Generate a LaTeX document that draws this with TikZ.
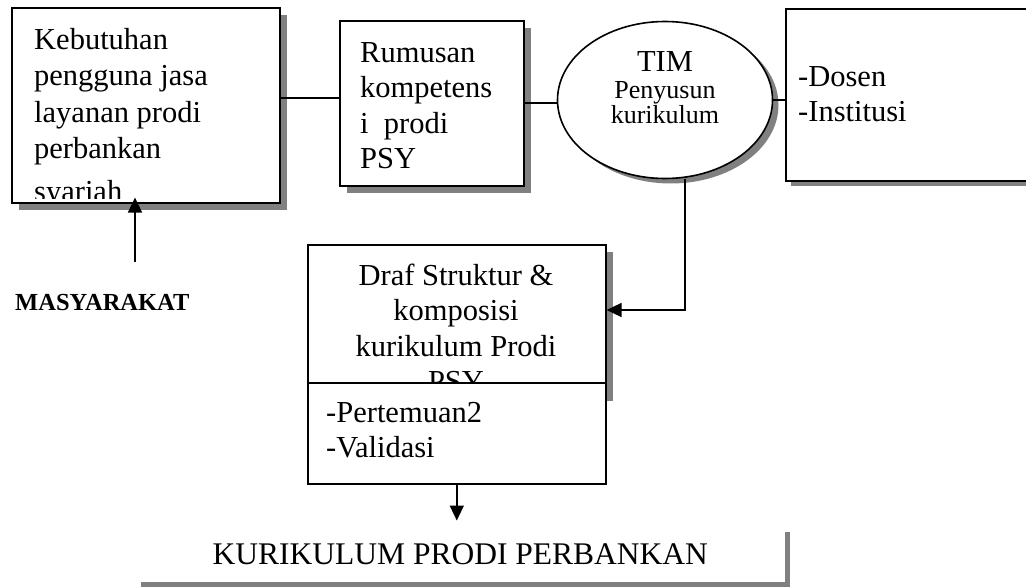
\documentclass[tikz,border=0pt]{standalone}
\usepackage{fontspec}
\setmainfont{Liberation Serif}
\usetikzlibrary{shapes.geometric,shadows,arrows.meta}
\newcommand{\atas}{\rule{0pt}{25pt}}
\newcommand{\teksbesar}{\fontsize{30.5}{35.5}\selectfont}

\begin{document}
\begin{tikzpicture}[x=1pt, y=-1pt,
    kotak/.style={draw, rectangle, line width=1.6pt, fill=white, anchor=north west, inner sep=0pt},
    bayang/.style={drop shadow={shadow xshift=#1, shadow yshift=-#1, fill=black!50, opacity=1}},
    bayang/.default=7pt,
    teks/.style={inner sep=0pt, align=left, anchor=north west, font=\teksbesar},
    garis/.style={line width=1.6pt},
    panah/.style={line width=1.6pt, -{Triangle[length=15pt, width=14pt]}}]
    \useasboundingbox (0,0) rectangle (1026,588);

    % Top row
    \node[kotak, bayang, minimum width=268pt, minimum height=195pt] (kebutuhan) at (11,7) {};
    \begin{scope}
        \clip (11,7) rectangle (279,199);
        \node[teks, font=\fontsize{30.5}{36.5}\selectfont] (kebutuhan-teks) at (34,24) {\atas Kebutuhan\\pengguna jasa\\layanan prodi\\perbankan\\[6pt]syariah};
    \end{scope}

    \node[kotak, bayang, minimum width=184pt, minimum height=165pt] (rumusan) at (339,20) {};
    \node[teks] (rumusan-teks) at (360,37) {\atas Rumusan\\kompetens\\i\ \ prodi\\PSY};

    \node[ellipse, draw, line width=1.6pt, fill=white, drop shadow={shadow xshift=6pt, shadow yshift=-5pt, fill=black!50, opacity=1}, minimum width=215pt, minimum height=157pt, inner sep=0pt] (tim) at (665,100) {};
    \node[inner sep=0pt, anchor=north, align=center, font=\fontsize{26}{25}\selectfont] (tim-teks) at (665,46) {{\fontsize{30.5}{25}\selectfont\atas TIM}\\[2pt]Penyusun\\kurikulum};

    \node[kotak, bayang=5pt, minimum width=262pt, minimum height=172pt] (dosen) at (785,8) {};
    \node[teks] (dosen-teks) at (798,61) {\atas -Dosen\\-Institusi};

    % Middle
    \node[kotak, bayang, minimum width=298pt, minimum height=149pt] (draf) at (307,244) {};
    \node[teks, align=center, anchor=north] (draf-teks) at (456,260) {\atas Draf Struktur \&\\komposisi\\kurikulum Prodi\\PSY};
    \node[kotak, minimum width=298pt, minimum height=101pt] (hasil) at (307,382) {};
    \node[teks] (hasil-teks) at (326,397) {\atas -Pertemuan2\\-Validasi};

    \node[inner sep=0pt, anchor=north west, font=\fontsize{24.5}{28}\selectfont\bfseries] (masyarakat) at (15,285) {\atas MASYARAKAT};

    % Bottom
    \node[kotak, draw=none, bayang=5pt, minimum width=649pt, minimum height=55pt, font=\fontsize{31.5}{36}\selectfont] (kurikulum) at (135,526) {KURIKULUM PRODI PERBANKAN};

    % Connectors
    \coordinate (sambung) at (300,98);
    \coordinate (belok) at (685,310);
    \coordinate (masy-pangkal) at (135,262);
    \draw[garis] (kebutuhan.east |- sambung) -- (rumusan.west |- sambung);
    \draw[garis] (rumusan.east) -- (rumusan.east -| tim.west);
    \draw[garis] (tim.east) -- (tim.east -| dosen.west);
    \draw[panah] (tim.south -| belok) |- (draf.east |- belok);
    \draw[panah, shorten >=-6pt] (masy-pangkal) -- (masy-pangkal |- kebutuhan.south);
    \draw[panah, shorten >=5.5pt] (hasil.south) -- (hasil.south |- kurikulum.north);

\end{tikzpicture}
\end{document}
